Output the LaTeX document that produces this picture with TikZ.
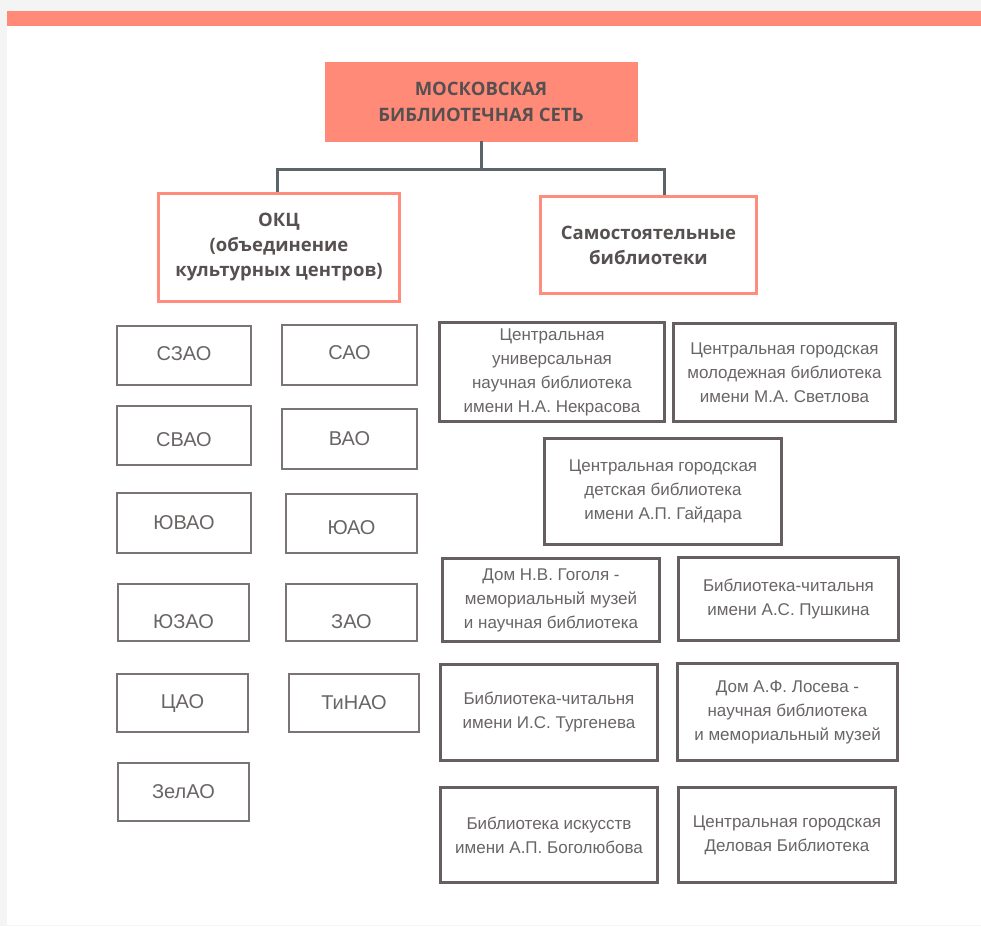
\documentclass[tikz,border=0pt]{standalone}
\usepackage{fontspec}
\setmainfont{Liberation Sans}
\newfontfamily\headfont{Open Sans}
\definecolor{bg}{HTML}{F4F4F4}
\definecolor{salmon}{HTML}{FF8A78}
\definecolor{salmonline}{HTML}{FF8C7C}
\definecolor{conncol}{HTML}{5A6469}
\definecolor{boxline}{HTML}{675F5F}
\definecolor{boxline2}{HTML}{7A7474}
\definecolor{txt}{HTML}{6A6565}
\definecolor{headtxt}{HTML}{575050}
\tikzset{
  headbox/.style={draw=salmonline, line width=3pt, fill=white, inner sep=0pt, align=center,
    text=headtxt, font=\headfont\bfseries\fontsize{18.5}{25}\selectfont},
  topbox/.style={fill=salmon, draw=salmon, inner sep=0pt, align=center,
    text=headtxt, font=\headfont\bfseries\fontsize{18.5}{26}\selectfont},
  distbox/.style={draw=boxline2, line width=2.2pt, fill=white, inner sep=0pt, align=center,
    text=txt, font=\fontsize{20}{24}\selectfont},
  libbox/.style={draw=boxline, line width=3pt, fill=white, inner sep=0pt, align=center,
    text=txt, font=\fontsize{17}{24}\selectfont},
  conn/.style={draw=conncol, line width=3pt},
}
\begin{document}
\begin{tikzpicture}[x=1pt,y=-1pt]
\useasboundingbox (0,0) rectangle (981,926);
\fill[bg] (0,0) rectangle (981,926);
\fill[white] (7,11) rectangle (981,925);
\fill[salmon] (7,11) rectangle (981,26);

% top level
\node[topbox, minimum width=312pt, minimum height=79pt] (top) at (481,101.5)
  {МОСКОВСКАЯ\\БИБЛИОТЕЧНАЯ СЕТЬ};
\node[headbox, minimum width=241pt, minimum height=108pt] (okc) at (279,247.5)
  {ОКЦ\\(объединение\\культурных центров)};
\node[headbox, minimum width=216pt, minimum height=97pt] (sam) at (648.5,245)
  {Самостоятельные\\библиотеки};

% connectors
\coordinate (bl) at (277,169);
\coordinate (br) at (664,169);
\draw[conn] (top.south) -- (top.south |- bl);
\draw[conn, line cap=rect] (bl) -- (br);
\draw[conn] (bl) -- (okc.north -| bl);
\draw[conn] (br) -- (sam.north -| br);

% districts
\node[distbox, minimum width=134pt, minimum height=59pt, text height=14pt, text depth=5pt] (szao) at (184,355.5) {СЗАО};
\node[distbox, minimum width=135pt, minimum height=60pt, text height=14pt, text depth=5pt] (sao) at (349.5,355) {САО};
\node[distbox, minimum width=134pt, minimum height=59pt, text height=21pt, text depth=0pt] (svao) at (184,435.5) {СВАО};
\node[distbox, minimum width=135pt, minimum height=60pt] (vao) at (349.5,439) {ВАО};
\node[distbox, minimum width=134pt, minimum height=60pt] (yuvao) at (184,523) {ЮВАО};
\node[distbox, minimum width=131pt, minimum height=59pt, text height=22pt, text depth=0pt] (yuao) at (351.5,523.5) {ЮАО};
\node[distbox, minimum width=131pt, minimum height=57pt, text height=31pt, text depth=0pt] (yuzao) at (183.5,612.5) {ЮЗАО};
\node[distbox, minimum width=131pt, minimum height=57pt, text height=31pt, text depth=0pt] (zao) at (351.5,612.5) {ЗАО};
\node[distbox, minimum width=131pt, minimum height=58pt] (cao) at (182.5,703) {ЦАО};
\node[distbox, minimum width=130pt, minimum height=58pt] (tinao) at (354,703) {ТиНАО};
\node[distbox, minimum width=131pt, minimum height=58pt] (zelao) at (183.5,792) {ЗелАО};

% libraries
\node[libbox, minimum width=225pt, minimum height=99pt] (nekr) at (552,372)
  {Центральная\\универсальная\\научная библиотека\\имени Н.А. Некрасова};
\node[libbox, minimum width=222pt, minimum height=98pt] (svet) at (784.5,372.5)
  {Центральная городская\\молодежная библиотека\\имени М.А. Светлова};
\node[libbox, minimum width=237pt, minimum height=106pt] (gaid) at (663,491.5)
  {Центральная городская\\детская библиотека\\имени А.П. Гайдара};
\node[libbox, minimum width=217pt, minimum height=83pt] (gog) at (551,600)
  {Дом Н.В. Гоголя -\\мемориальный музей\\и научная библиотека};
\node[libbox, minimum width=220pt, minimum height=83pt] (push) at (788.5,599)
  {Библиотека-читальня\\имени А.С. Пушкина};
\node[libbox, minimum width=217pt, minimum height=96pt] (turg) at (549,712.5)
  {Библиотека-читальня\\имени И.С. Тургенева};
\node[libbox, minimum width=220pt, minimum height=97pt] (los) at (787.5,712)
  {Дом А.Ф. Лосева -\\научная библиотека\\и мемориальный музей};
\node[libbox, minimum width=217pt, minimum height=95pt] (bogol) at (549,835)
  {Библиотека искусств\\имени А.П. Боголюбова};
\node[libbox, minimum width=217pt, minimum height=95pt] (delo) at (787,835)
  {Центральная городская\\Деловая Библиотека};
\end{tikzpicture}
\end{document}
